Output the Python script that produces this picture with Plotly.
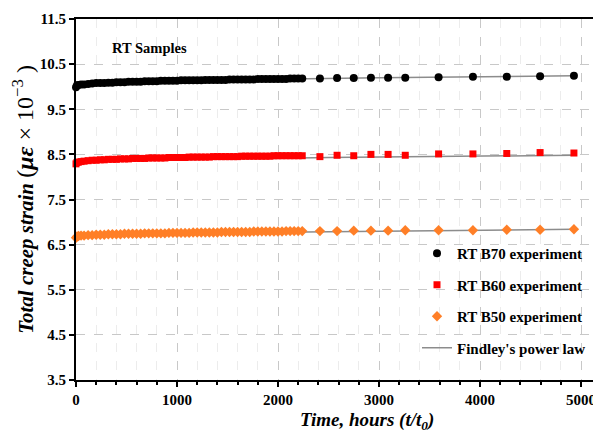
import plotly.graph_objects as go

# creep time, hours: dense logging up to ~2240 h, then sparse readings
hours = [0, 10, 25, 50, 80, 120, 160, 200, 240, 280,
         320, 360, 400, 440, 480, 520, 560, 600, 640, 680,
         720, 760, 800, 840, 880, 920, 960, 1000, 1040, 1080,
         1120, 1160, 1200, 1240, 1280, 1320, 1360, 1400, 1440, 1480,
         1520, 1560, 1600, 1640, 1680, 1720, 1760, 1800, 1840, 1880,
         1920, 1960, 2000, 2040, 2080, 2120, 2160, 2200, 2240, 2415,
         2585, 2750, 2920, 3090, 3260, 3590, 3930, 4265, 4595, 4930]

b70 = [9.99, 10.03, 10.04, 10.05, 10.05, 10.06, 10.07, 10.08, 10.08, 10.08,
       10.09, 10.09, 10.10, 10.10, 10.10, 10.11, 10.11, 10.11, 10.11, 10.12,
       10.12, 10.12, 10.12, 10.13, 10.13, 10.13, 10.13, 10.13, 10.14, 10.14,
       10.14, 10.14, 10.14, 10.14, 10.15, 10.15, 10.15, 10.15, 10.15, 10.15,
       10.16, 10.16, 10.16, 10.16, 10.16, 10.16, 10.16, 10.17, 10.17, 10.17,
       10.17, 10.17, 10.17, 10.17, 10.17, 10.18, 10.18, 10.18, 10.18, 10.18,
       10.19, 10.19, 10.20, 10.20, 10.20, 10.21, 10.22, 10.22, 10.23, 10.24]

b60 = [8.29, 8.32, 8.33, 8.34, 8.35, 8.36, 8.37, 8.37, 8.38, 8.38,
       8.39, 8.39, 8.39, 8.40, 8.40, 8.40, 8.41, 8.41, 8.41, 8.41,
       8.42, 8.42, 8.42, 8.42, 8.42, 8.43, 8.43, 8.43, 8.43, 8.43,
       8.44, 8.44, 8.44, 8.44, 8.44, 8.44, 8.45, 8.45, 8.45, 8.45,
       8.45, 8.45, 8.45, 8.46, 8.46, 8.46, 8.46, 8.46, 8.46, 8.46,
       8.46, 8.47, 8.47, 8.47, 8.47, 8.47, 8.47, 8.47, 8.47, 8.45,
       8.48, 8.47, 8.50, 8.50, 8.48, 8.51, 8.51, 8.52, 8.54, 8.53]

b50 = [6.65, 6.68, 6.69, 6.70, 6.70, 6.71, 6.71, 6.72, 6.72, 6.72,
       6.73, 6.73, 6.73, 6.73, 6.74, 6.74, 6.74, 6.74, 6.74, 6.75,
       6.75, 6.75, 6.75, 6.75, 6.75, 6.76, 6.76, 6.76, 6.76, 6.76,
       6.76, 6.77, 6.77, 6.77, 6.77, 6.77, 6.77, 6.77, 6.78, 6.78,
       6.78, 6.78, 6.78, 6.78, 6.78, 6.78, 6.79, 6.79, 6.79, 6.79,
       6.79, 6.79, 6.79, 6.79, 6.80, 6.80, 6.80, 6.80, 6.80, 6.80,
       6.80, 6.81, 6.81, 6.81, 6.82, 6.82, 6.82, 6.83, 6.83, 6.84]

# Findley's power law fits
fit_hours = [0, 100, 250, 500, 1000, 1500, 2000, 2500, 3000, 3500, 4000, 4500, 4930]
fit_b70 = [10.00, 10.05, 10.08, 10.10, 10.13, 10.15, 10.17, 10.18, 10.20, 10.21, 10.22, 10.23, 10.24]
fit_b60 = [8.28, 8.32, 8.34, 8.36, 8.38, 8.40, 8.41, 8.43, 8.44, 8.45, 8.46, 8.47, 8.48]
fit_b50 = [6.66, 6.69, 6.71, 6.73, 6.75, 6.76, 6.77, 6.78, 6.80, 6.81, 6.82, 6.83, 6.84]

x_ticks = [0, 1000, 2000, 3000, 4000, 5000]
y_ticks = [3.5, 4.5, 5.5, 6.5, 7.5, 8.5, 9.5, 10.5, 11.5]

SERIF = "Liberation Serif"
GRID = "#c8c8c8"

fig = go.Figure()

# fit lines go underneath the markers
for i, fy in enumerate([fit_b70, fit_b60, fit_b50]):
    fig.add_trace(go.Scatter(
        x=fit_hours, y=fy, mode="lines",
        name="Findley's power law",
        line=dict(color="#8c8c8c", width=1.5),
        showlegend=(i == 0), legendgroup="fit", legendrank=4,
    ))

series = [
    ("RT B70 experiment", b70, "#000000", "circle", 8, 1),
    ("RT B60 experiment", b60, "#ff0000", "square", 7, 2),
    ("RT B50 experiment", b50, "#ff7f27", "diamond", 8, 3),
]
for name, ys, color, symbol, size, rank in series:
    fig.add_trace(go.Scatter(
        x=hours, y=ys, mode="markers", name=name,
        marker=dict(color=color, symbol=symbol, size=size, line=dict(width=0)),
        legendgroup=name, legendrank=rank, cliponaxis=False,
    ))

fig.add_annotation(
    text="<b>RT Samples</b>", xref="x", yref="y", x=723, y=10.86,
    showarrow=False, font=dict(family=SERIF, size=14.5, color="black"),
)
fig.add_annotation(
    text="<b><i>Time, hours (t/t<sub>0</sub>)</i></b>",
    xref="paper", yref="paper", x=(367 - 76) / 525, y=-0.114,
    xanchor="center", yanchor="middle", showarrow=False,
    font=dict(family=SERIF, size=19, color="black"),
)

tick_font = dict(family=SERIF, size=15, color="black", weight="bold")

fig.update_xaxes(
    range=[0, 5198], tickvals=x_ticks,
    showline=True, linecolor="black", linewidth=2, mirror=True,
    ticks="outside", ticklen=5, tickwidth=1.5, tickcolor="black",
    tickfont=tick_font,
    showgrid=True, gridcolor=GRID, griddash="dash", gridwidth=1,
    minor=dict(dtick=200, showgrid=True, gridcolor="#ececec", gridwidth=1,
               ticks="outside", ticklen=3, tickcolor="black"),
    zeroline=False,
)
fig.update_yaxes(
    range=[3.5, 11.5], tickvals=y_ticks, ticktext=[f"{v:.1f}" for v in y_ticks],
    showline=True, linecolor="black", linewidth=2, mirror=False,
    ticks="outside", ticklen=5, tickwidth=1.5, tickcolor="black",
    tickfont=tick_font,
    showgrid=True, gridcolor=GRID, griddash="dash", gridwidth=1,
    zeroline=False,
    title=dict(
        text=("<b><i>Total creep strain </i></b>"
              "<span style='font-size:24px'>(<b><i>με</i></b> × 10<sup>−3</sup> )</span>"),
        font=dict(family=SERIF, size=21, color="black"), standoff=6,
    ),
)

# the page body adds an 8px offset, so the figure is 8px smaller than the window
fig.update_layout(
    width=593, height=424,
    margin=dict(l=68, r=0, t=11, b=52),
    plot_bgcolor="white", paper_bgcolor="white",
    legend=dict(
        x=(417 - 76) / 525, y=(380 - 237) / 361, xanchor="left", yanchor="top",
        bgcolor="rgba(0,0,0,0)", traceorder="grouped", tracegroupgap=9,
        font=dict(family=SERIF, size=15, color="black", weight="bold"),
        itemwidth=30,
    ),
    font=dict(family=SERIF, color="black"),
)

fig.write_html("out.html")
